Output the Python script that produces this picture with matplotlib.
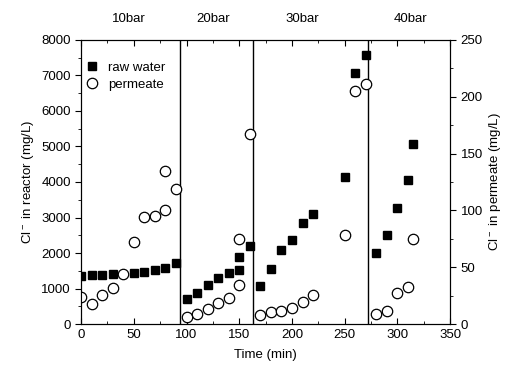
import numpy as np
import matplotlib
matplotlib.use("Agg")
import matplotlib.pyplot as plt
from matplotlib.ticker import MultipleLocator
import matplotlib.transforms as mtransforms

plt.rcParams['font.family'] = ['Liberation Sans', 'DejaVu Sans']
plt.rcParams['mathtext.fontset'] = 'custom'
plt.rcParams['mathtext.rm'] = 'Liberation Sans'

# raw water Cl- (left axis, mg/L)
raw_t = [0, 10, 20, 30, 50, 60, 70, 80, 90,
         100, 110, 120, 130, 140, 150, 150, 160,
         170, 180, 190, 200, 210, 220, 250, 260, 270,
         280, 290, 300, 310, 315]
raw_cl = [1340, 1370, 1390, 1410, 1450, 1480, 1510, 1590, 1710,
          700, 870, 1090, 1300, 1450, 1520, 1890, 2200,
          1080, 1540, 2080, 2380, 2850, 3100, 4130, 7080, 7580,
          1990, 2520, 3260, 4050, 5060]

# permeate Cl- (right axis, mg/L)
perm_t = [0, 10, 20, 30, 40, 50, 60, 70, 80, 80, 90,
          100, 110, 120, 130, 140, 150, 150, 160,
          170, 180, 190, 200, 210, 220, 250, 260, 270,
          280, 290, 300, 310, 315]
perm_cl = [24, 18, 26, 32, 44, 72, 94, 95, 100, 135, 119,
           6, 8.5, 13, 19, 23, 34, 75, 167,
           8, 10.6, 11.2, 13.8, 19.7, 26, 78, 205, 211,
           8.8, 11.2, 27.6, 33, 75]

stage_breaks = [94, 163, 272]
stage_names = ['10bar', '20bar', '30bar', '40bar']
stage_label_x = [45, 125, 210, 312]

fs = 9.5

fig = plt.figure(figsize=(5.07, 3.76), dpi=100)
ax = fig.add_axes([0.16, 0.138, 0.728, 0.756])
ax2 = ax.twinx()

sq, = ax.plot(raw_t, raw_cl, 's', color='black', markersize=6, linestyle='none',
              label='raw water')
ci, = ax2.plot(perm_t, perm_cl, 'o', markerfacecolor='white', markeredgecolor='black',
               markersize=7.5, markeredgewidth=0.9, linestyle='none', label='permeate')

for b in stage_breaks:
    ax.axvline(b, color='black', lw=1)

ax.set_xlim(0, 350)
ax.set_ylim(0, 8000)
ax2.set_ylim(0, 250)

ax.xaxis.set_major_locator(MultipleLocator(50))
ax.xaxis.set_minor_locator(MultipleLocator(25))
ax.yaxis.set_major_locator(MultipleLocator(1000))
ax.yaxis.set_minor_locator(MultipleLocator(500))
ax2.yaxis.set_major_locator(MultipleLocator(50))
ax2.yaxis.set_minor_locator(MultipleLocator(25))

ax.tick_params(axis='x', which='both', direction='in', top=True, labelsize=fs)
ax.tick_params(axis='x', which='major', length=4)
ax.tick_params(axis='x', which='minor', length=2.5)
ax.tick_params(axis='y', which='both', direction='out', labelsize=fs)
ax.tick_params(axis='y', which='major', length=4)
ax.tick_params(axis='y', which='minor', length=2.5)
ax2.tick_params(axis='y', which='both', direction='out', labelsize=fs)
ax2.tick_params(axis='y', which='major', length=4)
ax2.tick_params(axis='y', which='minor', length=2.5)

ax.set_xlabel('Time (min)', fontsize=fs, labelpad=6)
ax.set_ylabel('Cl$^-$ in reactor (mg/L)', fontsize=fs, labelpad=4)
ax2.set_ylabel('Cl$^-$ in permeate (mg/L)', fontsize=fs, labelpad=3)

trans = mtransforms.blended_transform_factory(ax.transData, ax.transAxes)
for name, xpos in zip(stage_names, stage_label_x):
    ax.text(xpos, 1.075, name, transform=trans, ha='center', va='center', fontsize=fs)

ax2.legend(handles=[sq, ci], loc='upper left', bbox_to_anchor=(-0.02, 0.96),
           frameon=False, fontsize=fs, handletextpad=0.6, handlelength=1.2,
           borderaxespad=0.6, labelspacing=0.35, borderpad=0.2)

fig.savefig('out.png', dpi=100)
